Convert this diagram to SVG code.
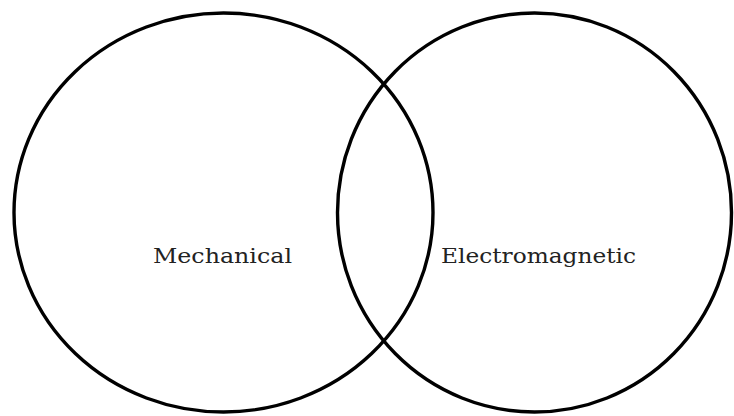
<svg xmlns="http://www.w3.org/2000/svg" width="734" height="416" viewBox="0 0 734 416">
<style>
.c{fill:none;stroke:#000;stroke-width:3.4}
.t{font-family:"DejaVu Serif","Liberation Serif",serif;font-size:21px;fill:#222}
</style>
<rect width="734" height="416" fill="#fff"/>
<g id="mechanical">
<ellipse class="c" cx="223.5" cy="212.5" rx="209.5" ry="199.5"/>
<text class="t" x="153" y="263" textLength="139" lengthAdjust="spacingAndGlyphs">Mechanical</text>
</g>
<g id="electromagnetic">
<ellipse class="c" cx="534.5" cy="212.5" rx="197" ry="199.5"/>
<text class="t" x="441" y="263" textLength="195" lengthAdjust="spacingAndGlyphs">Electromagnetic</text>
</g>
<g id="connectors"></g>
</svg>
